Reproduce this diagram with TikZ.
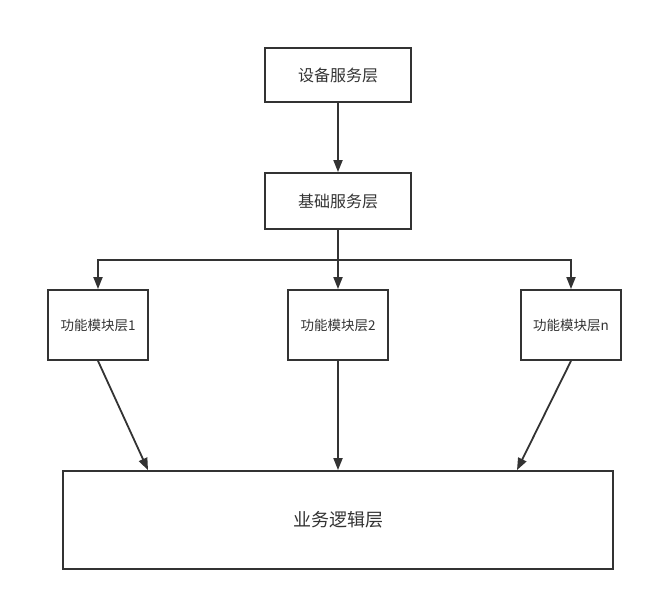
\documentclass[tikz,border=0pt]{standalone}
\usepackage{fontspec}
\setmainfont{Noto Sans CJK SC}
\usetikzlibrary{arrows.meta}
\definecolor{ln}{HTML}{333333}
\begin{document}
\begin{tikzpicture}[x=1pt,y=-1pt,
  box/.style={draw=ln,line width=1.8pt,fill=white,inner sep=0pt,text=ln},
  arr/.style={draw=ln,line width=1.8pt,-{Triangle[length=12pt,width=9pt]}}]
\useasboundingbox (0,0) rectangle (653,601);
\node[box,minimum width=146pt,minimum height=54pt,font=\fontsize{16}{19}\selectfont] (dev) at (338,75) {设备服务层};
\node[box,minimum width=146pt,minimum height=56pt,font=\fontsize{16}{19}\selectfont] (base) at (338,201) {基础服务层};
\node[box,minimum width=100pt,minimum height=70pt,font=\fontsize{13.5}{16}\selectfont] (m1) at (98,325) {功能模块层1};
\node[box,minimum width=100pt,minimum height=70pt,font=\fontsize{13.5}{16}\selectfont] (m2) at (338,325) {功能模块层2};
\node[box,minimum width=100pt,minimum height=70pt,font=\fontsize{13.5}{16}\selectfont] (mn) at (571,325) {功能模块层n};
\node[box,minimum width=550pt,minimum height=98pt,font=\fontsize{18}{21}\selectfont] (biz) at (338,520) {业务逻辑层};
\coordinate (j) at (338,260);
\draw[arr] (dev) -- (base);
\draw[arr] (base.south) -- (m2.north);
\draw[arr] (j) -| (m1.north);
\draw[arr] (j) -| (mn.north);
\draw[arr] (m1.south) -- ([xshift=-190pt]biz.north);
\draw[arr] (m2.south) -- (biz.north);
\draw[arr] (mn.south) -- ([xshift=179pt]biz.north);
\end{tikzpicture}
\end{document}
